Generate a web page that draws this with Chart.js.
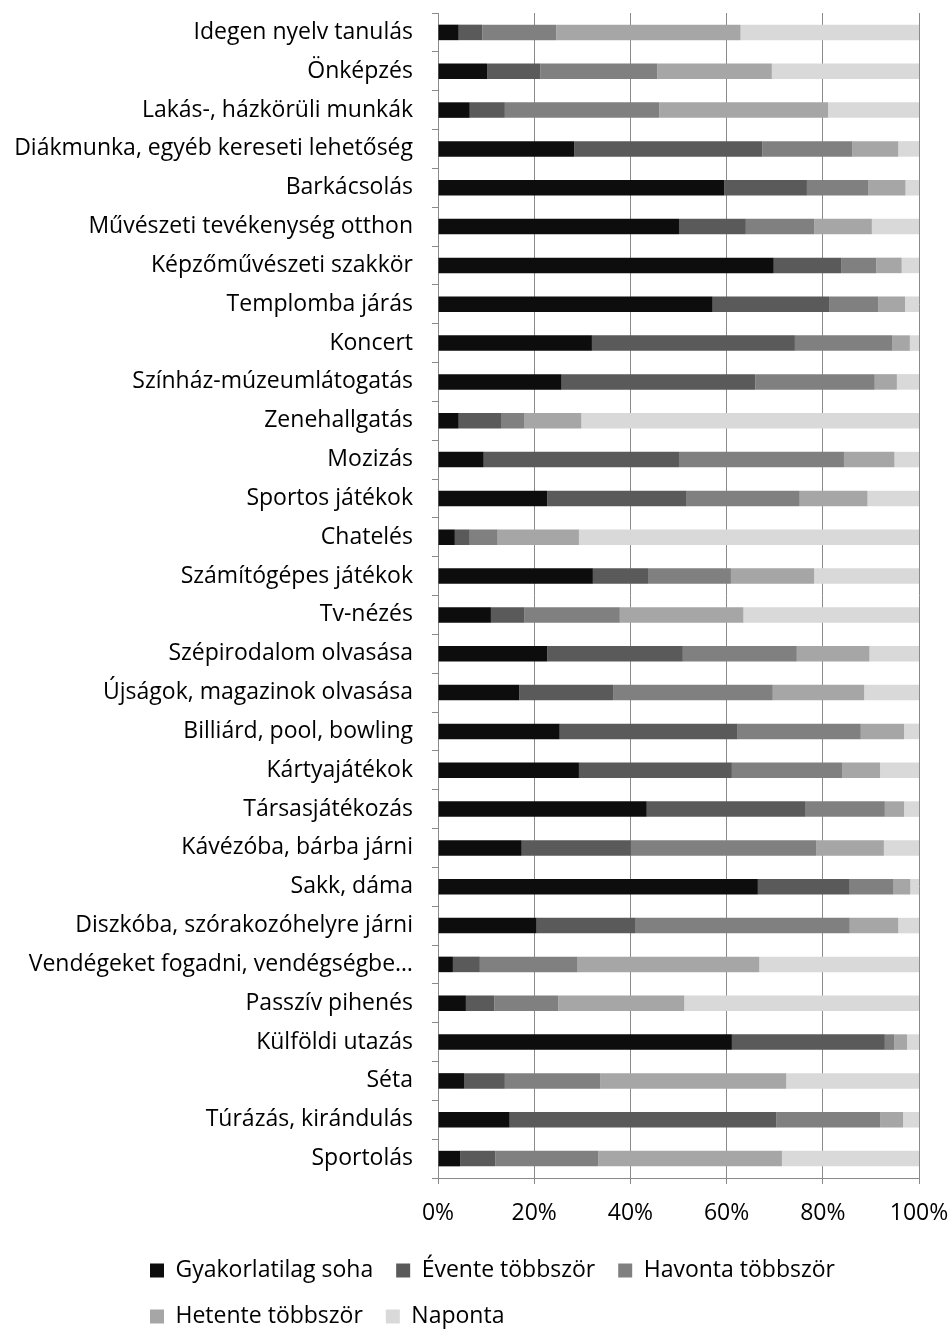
<!DOCTYPE html>
<html lang="hu">
<head>
    <meta charset="UTF-8">
    <title>Szabadidős tevékenységek gyakorisága</title>
    <script src="https://cdn.jsdelivr.net/npm/chart.js@4.4.0/dist/chart.umd.min.js"></script>
    <style>
        html, body { margin: 0; padding: 0; background: #fff; overflow: hidden; }
        .chart-container { position: relative; width: 951px; height: 1338px; }
    </style>
</head>
<body>
    <div class="chart-container">
        <canvas id="activity-chart"></canvas>
    </div>

    <script>
        const categories = [
            'Idegen nyelv tanulás', 'Önképzés', 'Lakás-, házkörüli munkák',
            'Diákmunka, egyéb kereseti lehetőség', 'Barkácsolás', 'Művészeti tevékenység otthon',
            'Képzőművészeti szakkör', 'Templomba járás', 'Koncert', 'Színház-múzeumlátogatás',
            'Zenehallgatás', 'Mozizás', 'Sportos játékok', 'Chatelés', 'Számítógépes játékok',
            'Tv-nézés', 'Szépirodalom olvasása', 'Újságok, magazinok olvasása',
            'Billiárd, pool, bowling', 'Kártyajátékok', 'Társasjátékozás',
            'Kávézóba, bárba járni', 'Sakk, dáma', 'Diszkóba, szórakozóhelyre járni',
            'Vendégeket fogadni, vendégségbe…', 'Passzív pihenés', 'Külföldi utazás',
            'Séta', 'Túrázás, kirándulás', 'Sportolás'
        ];

        const seriesNames = ['Gyakorlatilag soha', 'Évente többször', 'Havonta többször', 'Hetente többször', 'Naponta'];

        const gyakorlatilagSoha = [4.3, 10.2, 6.6, 28.3, 59.5, 50.1, 69.8, 57.1, 32.0, 25.7, 4.3, 9.5, 22.7, 3.5, 32.2,
                                   11.0, 22.7, 16.9, 25.3, 29.3, 43.4, 17.4, 66.5, 20.5, 3.1, 5.8, 61.1, 5.4, 14.9, 4.6];
        const eventeTobbszor = [4.9, 11.1, 7.3, 39.1, 17.2, 13.9, 14.0, 24.2, 42.2, 40.3, 8.8, 40.6, 29.0, 3.1, 11.6,
                                7.0, 28.2, 19.5, 37.0, 31.8, 32.9, 22.7, 19.1, 20.6, 5.6, 5.9, 31.8, 8.5, 55.4, 7.3];
        const havontaTobbszor = [15.4, 24.3, 32.1, 18.7, 12.7, 14.2, 7.3, 10.2, 20.3, 24.8, 4.9, 34.3, 23.5, 5.8, 17.1,
                                 19.8, 23.7, 33.2, 25.6, 22.9, 16.6, 38.5, 9.0, 44.5, 20.2, 13.3, 2.0, 19.8, 21.7, 21.4];
        const hetenteTobbszor = [38.3, 23.8, 35.1, 9.6, 7.8, 12.0, 5.3, 5.6, 3.6, 4.6, 11.8, 10.5, 14.1, 16.9, 17.3,
                                 25.7, 15.1, 19.0, 9.0, 7.9, 4.0, 14.1, 3.6, 10.1, 37.9, 26.2, 2.6, 38.7, 4.7, 38.2];
        const naponta = [37.2, 30.6, 18.9, 4.3, 2.8, 9.8, 3.6, 2.9, 1.9, 4.6, 70.2, 5.1, 10.7, 70.7, 21.8,
                         36.5, 10.3, 11.4, 3.1, 8.1, 3.1, 7.3, 1.8, 4.3, 33.2, 48.8, 2.5, 27.6, 3.3, 28.5];

        const xTicks = [0, 20, 40, 60, 80, 100];

        const seriesValues = [gyakorlatilagSoha, eventeTobbszor, havontaTobbszor, hetenteTobbszor, naponta];
        const seriesColors = ['#0d0d0d', '#5a5a5a', '#808080', '#a6a6a6', '#d9d9d9'];
        const axisColor = '#8a8a8a';
        const font = { family: '"Open Sans", Lato, sans-serif', size: 23 };

        // Excel puts the legend rows flush left under the labels, so nudge the legend box
        const legendOffset = {
            id: 'legendOffset',
            afterLayout(chart) {
                chart.legend.left = 127;
            }
        };

        const ctx = document.getElementById('activity-chart').getContext('2d');
        new Chart(ctx, {
            type: 'bar',
            data: {
                labels: categories,
                datasets: seriesNames.map((name, i) => ({
                    label: name,
                    data: seriesValues[i],
                    backgroundColor: seriesColors[i],
                    borderWidth: 0,
                    categoryPercentage: 1,
                    barPercentage: 0.4
                }))
            },
            options: {
                indexAxis: 'y',
                responsive: true,
                maintainAspectRatio: false,
                animation: false,
                layout: { padding: { top: 13, right: 32, left: 0, bottom: 0 } },
                plugins: {
                    tooltip: { enabled: false },
                    legend: {
                        position: 'bottom',
                        align: 'start',
                        labels: {
                            font: font,
                            color: '#000',
                            boxWidth: 14,
                            boxHeight: 14,
                            padding: 23
                        }
                    }
                },
                scales: {
                    x: {
                        stacked: true,
                        min: 0,
                        max: 100,
                        afterBuildTicks: (scale) => {
                            scale.ticks = xTicks.map(v => ({ value: v }));
                        },
                        afterFit: (scale) => {
                            scale.height = 58;
                            scale.paddingLeft = 0;
                            scale.paddingRight = 0;
                        },
                        ticks: {
                            font: font,
                            color: '#000',
                            padding: 16,
                            callback: (v) => v + '%'
                        },
                        grid: { color: axisColor, lineWidth: 1, tickLength: 6 },
                        border: { color: axisColor, width: 1 }
                    },
                    y: {
                        stacked: true,
                        afterFit: (scale) => {
                            scale.width = 438;
                            scale.paddingTop = 0;
                            scale.paddingBottom = 0;
                        },
                        ticks: {
                            font: font,
                            color: '#000',
                            padding: 19,
                            autoSkip: false
                        },
                        grid: { drawOnChartArea: false, color: axisColor, tickLength: 6, offset: true },
                        border: { color: axisColor, width: 1 }
                    }
                }
            },
            plugins: [legendOffset]
        });
    </script>
</body>
</html>
